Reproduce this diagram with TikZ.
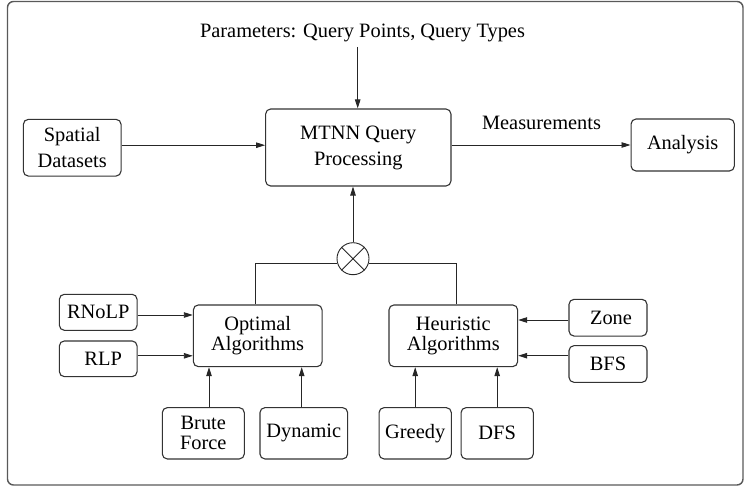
\documentclass[tikz,border=0pt]{standalone}
\usepackage{fontspec}
\newfontfamily\tms{Liberation Serif}
\usetikzlibrary{arrows.meta}
\begin{document}
\begin{tikzpicture}[x=1pt,y=-1pt,
  box/.style={draw=black!80, line width=1.1pt, rounded corners=5pt, inner sep=0pt, align=center,
    font=\tms\fontsize{20.4}{20}\selectfont},
  bigbox/.style={box, font=\tms\fontsize{20.4}{26}\selectfont},
  lbl/.style={inner sep=0pt, font=\tms\fontsize{20.4}{20}\selectfont},
  arr/.style={draw=black!85, line width=0.9pt, -{Triangle[length=9pt,width=5.5pt]}},
  ln/.style={draw=black!85, line width=0.9pt}]
\useasboundingbox (0,0) rectangle (745,487);
\draw[black!65, line width=1.4pt, rounded corners=6pt] (7.5,1.5) rectangle (743,485);

% top row
\node[bigbox, minimum width=97.7pt, minimum height=56.7pt] (sp) at (72.2,147.7) {Spatial\\Datasets};
\node[bigbox, minimum width=185.3pt, minimum height=77pt] (mt) at (358.3,147.5) {MTNN Query\\Processing};
\node[box, minimum width=103.3pt, minimum height=52pt] (an) at (682.7,145) {Analysis};
\node[lbl, anchor=base, inner sep=5pt] (par) at (362.5,37.3) {Parameters: Query Points, Query Types};
\node[lbl, anchor=base] (meas) at (541.5,129.3) {Measurements};

% combiner
\node[draw=black!85, line width=0.9pt, circle, minimum size=32pt, inner sep=0pt] (cx) at (353,258.7) {};
\draw[black!85, line width=0.9pt] (cx.north west) -- (cx.south east) (cx.north east) -- (cx.south west);

% algorithm boxes
\node[box, minimum width=128.7pt, minimum height=61.7pt] (opt) at (257.7,335.8) {Optimal\\Algorithms};
\node[box, minimum width=128.7pt, minimum height=61.7pt] (heu) at (453.3,335.8) {Heuristic\\Algorithms};

\node[box, minimum width=77.7pt, minimum height=36pt] (rnolp) at (98.2,312.3) {RNoLP};
\node[box, minimum width=77.7pt, minimum height=35.7pt] (rlp) at (98.2,358.8) {\hspace*{10pt}RLP};
\node[box, minimum width=78pt, minimum height=36.7pt] (zone) at (608,317.7) {\hspace*{6pt}Zone};
\node[box, minimum width=78pt, minimum height=36.7pt] (bfs) at (608,364) {BFS};

\node[box, minimum width=82pt, minimum height=51.3pt] (brute) at (203.3,433.3) {Brute\\Force};
\node[box, minimum width=87.7pt, minimum height=51.3pt] (dyn) at (303.8,433.3) {Dynamic};
\node[box, minimum width=72.3pt, minimum height=51.3pt] (greedy) at (415.2,433.3) {Greedy};
\node[box, minimum width=72.3pt, minimum height=51.3pt] (dfs) at (497.2,433.3) {DFS};

% connectors
\draw[arr] ([yshift=2.5pt]sp.east) -- ([yshift=2.5pt]sp.east -| mt.west);
\draw[arr] (an.west -| mt.east) -- (an.west);
\draw[arr] ([xshift=-0.6pt]mt.north |- par.south) -- ([xshift=-0.6pt]mt.north);
\draw[arr] (cx.north) -- (cx.north |- mt.south);
\draw[ln] ([xshift=-2.7pt]opt.north) |- (cx.197.5);
\draw[ln] ([xshift=2.7pt]heu.north) |- (cx.342.5);

\draw[arr] ([yshift=-2.7pt]rnolp.east) -- ([yshift=-2.7pt]rnolp.east -| opt.west);
\draw[arr] ([yshift=3pt]rlp.east) -- ([yshift=3pt]rlp.east -| opt.west);
\draw[arr] ([yshift=-2.3pt]zone.west) -- ([yshift=-2.3pt]zone.west -| heu.east);
\draw[arr] ([yshift=8.3pt]bfs.west) -- ([yshift=8.3pt]bfs.west -| heu.east);

\draw[arr] (brute.north -| 209,0) -- (opt.south -| 209,0);
\draw[arr] (dyn.north -| 301.7,0) -- (opt.south -| 301.7,0);
\draw[arr] (greedy.north) -- (greedy.north |- heu.south);
\draw[arr] (dfs.north) -- (dfs.north |- heu.south);
\end{tikzpicture}
\end{document}
